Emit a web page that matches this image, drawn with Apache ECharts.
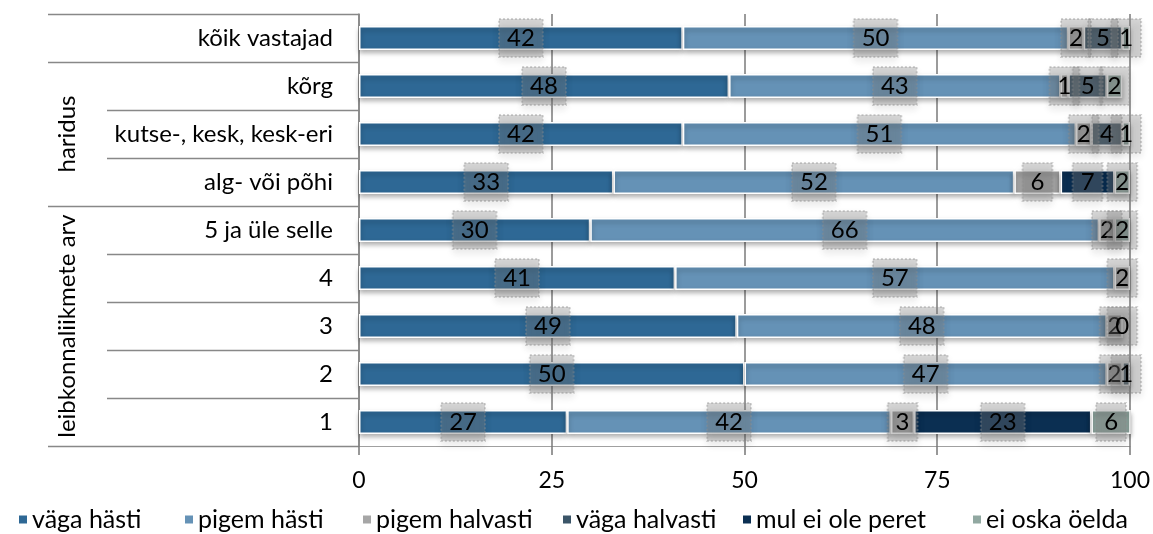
<!DOCTYPE html>
<html>
<head>
<meta charset="utf-8">
<script src="https://cdn.jsdelivr.net/npm/echarts@6/dist/echarts.min.js"></script>
<style>
  html, body { margin: 0; padding: 0; background: #fff; }
  #chart { width: 1153px; height: 534px; }
</style>
</head>
<body>
<div id="chart"></div>
<script>
// Row labels, top to bottom
const categories = ['kõik vastajad', 'kõrg', 'kutse-, kesk, kesk-eri', 'alg- või põhi',
  '5 ja üle selle', '4', '3', '2', '1'];

// Share of answers per row (%)
const vagaHasti     = [42, 48, 42, 33, 30, 41, 49, 50, 27];
const pigemHasti    = [50, 43, 51, 52, 66, 57, 48, 47, 42];
const pigemHalvasti = [2, 1, 2, 6, 2, 2, 2, 2, 3];
const vagaHalvasti  = [5, 5, 4, null, null, null, null, 1, null];
const mulEiOlePeret = [null, null, null, 7, null, null, null, null, 23];
const eiOskaOelda   = [1, 2, 1, 2, 2, null, 0, null, 6];

const seriesNames = ['väga hästi', 'pigem hästi', 'pigem halvasti', 'väga halvasti',
  'mul ei ole peret', 'ei oska öelda'];
const seriesData = [vagaHasti, pigemHasti, pigemHalvasti, vagaHalvasti, mulEiOlePeret, eiOskaOelda];
const colors = ['#2e6895', '#6592b6', '#a6a6a6', '#3b5568', '#0b2f52', '#91a8a1'];

// Row groups shown as rotated labels at the far left
const groupNames = ['haridus', 'leibkonnaliikmete arv'];
const groupFirst = [1, 4];
const groupLast = [3, 8];

const xTicks = [0, 25, 50, 75, 100];

// Left offsets of the legend entries along the bottom
const legendLeft = [12, 178, 356, 556, 736, 966];

const FONT = 'Lato, "Open Sans", sans-serif';
const chart = echarts.init(document.getElementById('chart'));

const series = seriesNames.map((name, k) => ({
  name,
  type: 'bar',
  stack: 'all',
  barWidth: 24,
  data: seriesData[k],
  itemStyle: {
    color: colors[k],
    borderColor: '#ffffff',
    borderWidth: 1.5,
    shadowColor: 'rgba(0,0,0,0.35)',
    shadowBlur: 5,
    shadowOffsetY: 3
  },
  label: {
    show: true,
    position: 'inside',
    formatter: p => (p.value === null || p.value === undefined ? '' : String(p.value)),
    fontFamily: FONT,
    fontSize: 24,
    color: '#000',
    backgroundColor: 'rgba(130,130,130,0.32)',
    borderColor: 'rgba(150,150,150,0.4)',
    borderType: 'dotted',
    borderWidth: 1,
    padding: [8, 8, 6, 8],
    shadowColor: 'rgba(0,0,0,0.28)',
    shadowBlur: 8,
    shadowOffsetY: 4
  },
  emphasis: { disabled: true }
}));

const legends = seriesNames.map((name, k) => ({
  left: legendLeft[k],
  bottom: -3,
  icon: 'rect',
  itemWidth: 10,
  itemHeight: 10,
  itemGap: 0,
  selectedMode: false,
  textStyle: { fontFamily: FONT, fontSize: 25, color: '#000', padding: [0, 0, 0, -1] },
  data: [name]
}));

chart.setOption({
  animation: false,
  grid: { left: 359, right: 23, top: 14, bottom: 88, containLabel: false },
  xAxis: {
    type: 'value',
    min: 0, max: 100, interval: 25,
    axisLine: { show: true, lineStyle: { color: '#a0a0a0', width: 1 } },
    axisTick: { show: true, length: 9, lineStyle: { color: '#777', width: 1.5 } },
    splitLine: { show: true, lineStyle: { color: '#7a7a7a', width: 1.5 } },
    axisLabel: {
      fontFamily: FONT, fontSize: 23, color: '#000', margin: 23,
      formatter: v => (xTicks.indexOf(v) >= 0 ? String(v) : '')
    }
  },
  yAxis: {
    type: 'category',
    inverse: true,
    data: categories,
    axisLine: { show: true, lineStyle: { color: '#888', width: 1.5 } },
    axisTick: { show: false },
    axisLabel: { fontFamily: FONT, fontSize: 24, color: '#000', margin: 26 }
  },
  legend: legends,
  series
});

// Table-like row dividers and group labels on the left side
function drawFrame() {
  const c0 = chart.convertToPixel({ yAxisIndex: 0 }, 0);
  const c1 = chart.convertToPixel({ yAxisIndex: 0 }, 1);
  const band = Math.abs(c1 - c0);
  const axisX = chart.convertToPixel({ xAxisIndex: 0 }, 0);
  const top = i => chart.convertToPixel({ yAxisIndex: 0 }, i) - band / 2;
  const outerX = axisX - 311;
  const innerX = axisX - 252;
  const elements = [];
  const majors = new Set([0, categories.length].concat(groupFirst));
  for (let i = 0; i <= categories.length; i++) {
    const y = i < categories.length ? top(i) : top(categories.length - 1) + band;
    const x1 = majors.has(i) ? outerX : innerX;
    elements.push({
      type: 'line', silent: true,
      shape: { x1, y1: Math.round(y) + 0.5, x2: axisX, y2: Math.round(y) + 0.5 },
      style: { stroke: '#888', lineWidth: 1.5 }
    });
  }
  groupNames.forEach((name, g) => {
    const yMid = (top(groupFirst[g]) + top(groupLast[g]) + band) / 2;
    elements.push({
      type: 'text', silent: true,
      x: outerX + 19, y: yMid, rotation: Math.PI / 2,
      style: {
        text: name, fontFamily: FONT, fontSize: 24, fill: '#000',
        align: 'center', verticalAlign: 'middle'
      }
    });
  });
  chart.setOption({ graphic: { elements } });
}
drawFrame();
</script>
</body>
</html>
